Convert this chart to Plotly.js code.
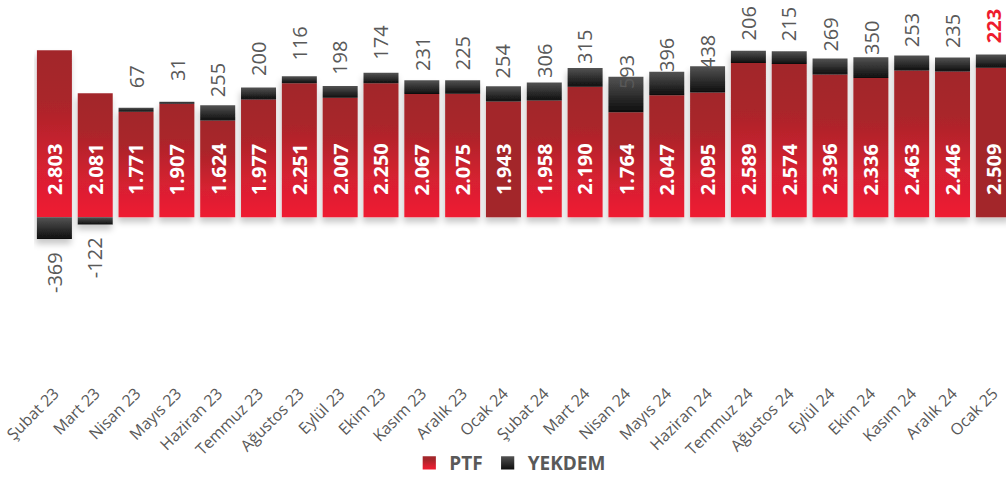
<!DOCTYPE html>
<html><head><meta charset="utf-8">
<script src="https://cdn.plot.ly/plotly-3.0.1.min.js"></script>
<style>html,body{margin:0;padding:0;background:#fff;overflow:hidden}</style>
</head><body><div id="chart" style="width:1006px;height:482px"></div>
<script>
const months = ['Şubat 23','Mart 23','Nisan 23','Mayıs 23','Haziran 23','Temmuz 23','Ağustos 23','Eylül 23','Ekim 23','Kasım 23','Aralık 23','Ocak 24','Şubat 24','Mart 24','Nisan 24','Mayıs 24','Haziran 24','Temmuz 24','Ağustos 24','Eylül 24','Ekim 24','Kasım 24','Aralık 24','Ocak 25'];
const ptf = [2803,2081,1771,1907,1624,1977,2251,2007,2250,2067,2075,1943,1958,2190,1764,2047,2095,2589,2574,2396,2336,2463,2446,2509];
const yekdem = [-369,-122,67,31,255,200,116,198,174,231,225,254,306,315,593,396,438,206,215,269,350,253,235,223];
const highlightMonth = 'Ocak 25';

function fmt(v){
  const s = Math.abs(v).toString().replace(/\B(?=(\d{3})+(?!\d))/g,'.');
  return (v < 0 ? '-' : '') + s;
}

const traces = [
  {type:'bar', name:'PTF', x:months, y:ptf, marker:{color:'#c4222d'}, hoverinfo:'none'},
  {type:'bar', name:'YEKDEM', x:months, y:yekdem, marker:{color:'#2e2e2e'}, hoverinfo:'none'}
];

const annotations = [];
months.forEach((m,i)=>{
  annotations.push({x:m, y:0, xref:'x', yref:'y', text:fmt(ptf[i]), showarrow:false,
    textangle:-90, yanchor:'bottom', xanchor:'center', yshift:20,
    font:{family:'Open Sans', size:20, color:'#ffffff', weight:'bold'}});
  const hl = m === highlightMonth;
  const labFont = hl ? {family:'Open Sans', size:20, color:'#ee1c2e', weight:'bold'}
                     : {family:'Open Sans', size:20, color:'#595959'};
  if (yekdem[i] >= 0) {
    annotations.push({x:m, y:ptf[i], xref:'x', yref:'y', text:fmt(yekdem[i]), showarrow:false,
      textangle:-90, yanchor:'bottom', xanchor:'center', yshift: hl ? 23 : 21, font:labFont});
  } else {
    annotations.push({x:m, y:yekdem[i], xref:'x', yref:'y', text:fmt(yekdem[i]), showarrow:false,
      textangle:-90, yanchor:'top', xanchor:'center', yshift:-11, font:labFont});
  }
});

const layout = {
  width:1006, height:482,
  margin:{l:34, r:0, t:0, b:97, pad:0},
  paper_bgcolor:'#ffffff', plot_bgcolor:'#ffffff',
  barmode:'relative', bargap:0.143,
  showlegend:true,
  legend:{orientation:'h', x:0.49, xanchor:'center', y:-0.22, yanchor:'middle',
    font:{family:'Open Sans', size:19, color:'#595959', weight:'bold'}, itemclick:false},
  xaxis:{type:'category', range:[-0.5, 23.31], tickangle:-45, showgrid:false, zeroline:false,
    showline:false, ticks:'', tickfont:{family:'Open Sans', size:16, color:'#595959'}},
  yaxis:{range:[-2736, 3648], visible:false, showgrid:false, zeroline:false},
  annotations:annotations
};

Plotly.newPlot('chart', traces, layout, {staticPlot:true, displayModeBar:false}).then(gd=>{
  const ns = 'http://www.w3.org/2000/svg';
  const svg = gd.querySelector('svg.main-svg');
  let defs = svg.querySelector('defs');
  function grad(id, stops){
    const g = document.createElementNS(ns,'linearGradient');
    g.setAttribute('id',id); g.setAttribute('x1','0'); g.setAttribute('y1','0'); g.setAttribute('x2','0'); g.setAttribute('y2','1');
    stops.forEach(([o,c])=>{ const s=document.createElementNS(ns,'stop'); s.setAttribute('offset',o); s.setAttribute('stop-color',c); g.appendChild(s); });
    defs.appendChild(g);
  }
  grad('gPTF', [[0,'#a2272b'],[0.3,'#a9252a'],[0.7,'#d62030'],[1,'#ef1d31']]);
  grad('gYEK', [[0,'#535353'],[0.35,'#3a3a3a'],[1,'#0e0e0e']]);
  const f = document.createElementNS(ns,'filter');
  f.setAttribute('id','shadow'); f.setAttribute('x','-5%'); f.setAttribute('y','-5%'); f.setAttribute('width','110%'); f.setAttribute('height','115%');
  const ds = document.createElementNS(ns,'feDropShadow');
  ds.setAttribute('dx','-1'); ds.setAttribute('dy','5'); ds.setAttribute('stdDeviation','3');
  ds.setAttribute('flood-color','#000'); ds.setAttribute('flood-opacity','0.22');
  f.appendChild(ds); defs.appendChild(f);

  const tr = gd.querySelectorAll('.barlayer .trace');
  tr[0].querySelectorAll('.point path').forEach((p,i)=>{
    p.style.fill = months[i].startsWith('Ocak') ? '#a3282b' : 'url(#gPTF)';
  });
  tr[1].querySelectorAll('.point path').forEach(p=>{ p.style.fill = 'url(#gYEK)'; });
  const bl = gd.querySelector('.barlayer'); if (bl) bl.setAttribute('filter','url(#shadow)');
  const lt = gd.querySelectorAll('.legend .traces');
  [['url(#gPTF)'],['url(#gYEK)']].forEach((fill,k)=>{
    if (!lt[k]) return;
    lt[k].querySelectorAll('.legendpoints path').forEach(p=>{
      p.style.fill = fill[0];
      const t = p.getAttribute('transform') || '';
      p.setAttribute('transform', t + ' scale(1.1)');
    });
  });
});
</script>
</body></html>
